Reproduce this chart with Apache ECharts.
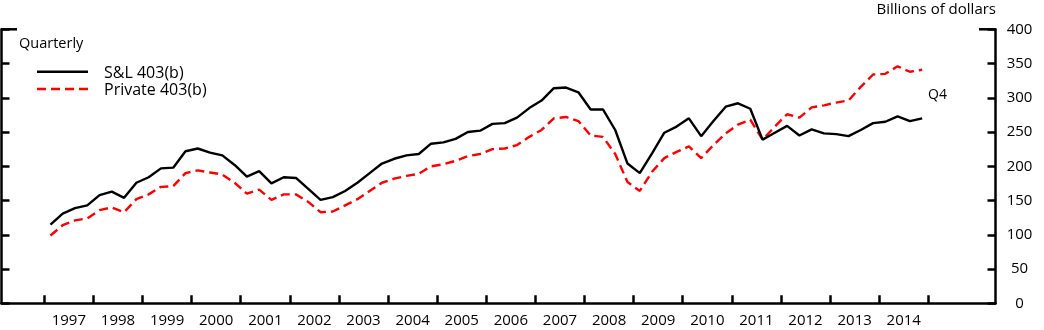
<!DOCTYPE html>
<html>
<head>
<meta charset="utf-8">
<script src="https://cdn.jsdelivr.net/npm/echarts@6/dist/echarts.min.js"></script>
<style>
html,body{margin:0;padding:0;background:#fff;}
#chart{width:1044px;height:330px;}
</style>
</head>
<body>
<div id="chart"></div>
<script>
// ---- data ----
const years = ['1997','1998','1999','2000','2001','2002','2003','2004','2005','2006','2007','2008','2009','2010','2011','2012','2013','2014'];
const quarters = [];
years.forEach(y => { for (let q = 1; q <= 4; q++) quarters.push(y + 'Q' + q); });

const seriesNames = ['S&L 403(b)', 'Private 403(b)'];

const slSeries = [
  115, 131, 139, 143,
  158, 163, 154, 176,
  184, 197, 198, 222,
  226, 220, 216, 202,
  185, 193, 175, 184,
  183, 167, 151, 155,
  164, 176, 190, 204,
  211, 216, 218, 233,
  235, 240, 250, 252,
  262, 263, 271, 285,
  296, 314, 315, 308,
  283, 283, 253, 204,
  190, 219, 249, 258,
  270, 244, 266, 287,
  292, 284, 239, 249,
  259, 245, 254, 248,
  247, 244, 253, 263,
  265, 273, 266, 270
];
const privateSeries = [
  99, 114, 121, 124,
  136, 140, 133, 152,
  159, 170, 171, 190,
  194, 191, 188, 176,
  160, 166, 151, 159,
  159, 148, 133, 134,
  143, 152, 164, 176,
  182, 186, 189, 200,
  203, 208, 215, 218,
  225, 226, 231, 243,
  253, 270, 272, 266,
  245, 243, 218, 177,
  164, 192, 212, 221,
  229, 212, 231, 248,
  261, 268, 239, 258,
  276, 271, 286, 289,
  293, 296, 316, 334,
  335, 346, 338, 341
];
const yMin = 0, yMax = 400, yStep = 50;

// ---- chart ----
const FONT = '"Open Sans", "Noto Sans", sans-serif';
const chart = echarts.init(document.getElementById('chart'), null, {renderer: 'canvas'});
const TOP = 29.3, BOTTOM = 26.7;
const AW = 2.5; // axis line width
const LW = 2.4; // series line width
const DASH = [9, 5];

const option = {
  animation: false,
  backgroundColor: '#fff',
  textStyle: {fontFamily: FONT, color: '#000'},
  grid: [
    {left: 1.5, right: 48.5, top: TOP, bottom: BOTTOM, containLabel: false},
    {left: 44.3, right: 115.7, top: TOP, bottom: BOTTOM, containLabel: false}
  ],
  xAxis: [
    { // year labels / ticks
      type: 'category', gridIndex: 1, data: years, boundaryGap: true,
      axisLine: {show: false},
      axisTick: {show: true, inside: true, length: 8, interval: 0, lineStyle: {color: '#000', width: AW}},
      axisLabel: {interval: 0, margin: 10, fontSize: 15, fontFamily: FONT, color: '#000'},
      splitLine: {show: false}
    },
    { // quarters (data)
      type: 'category', gridIndex: 1, data: quarters, boundaryGap: true, show: false
    },
    { // frame bottom line
      type: 'value', gridIndex: 0, min: 0, max: 1,
      axisLine: {show: true, onZero: false, lineStyle: {color: '#000', width: AW}},
      axisTick: {show: false}, axisLabel: {show: false}, splitLine: {show: false}
    }
  ],
  yAxis: [
    { // frame left
      type: 'value', gridIndex: 0, position: 'left', min: yMin, max: yMax, interval: yStep,
      axisLine: {show: true, lineStyle: {color: '#000', width: AW}},
      axisTick: {show: true, inside: true, length: 8, lineStyle: {color: '#000', width: AW}},
      axisLabel: {show: false}, splitLine: {show: false}
    },
    { // frame right with labels
      type: 'value', gridIndex: 0, position: 'right', min: yMin, max: yMax, interval: yStep,
      axisLine: {show: true, lineStyle: {color: '#000', width: AW}},
      axisTick: {show: true, inside: true, length: 8, lineStyle: {color: '#000', width: AW}},
      axisLabel: {show: true, align: 'center', margin: 24, fontSize: 15, fontFamily: FONT, color: '#000'},
      splitLine: {show: false}
    },
    { // data
      type: 'value', gridIndex: 1, min: yMin, max: yMax, show: false
    }
  ],
  series: [
    {
      name: seriesNames[0], type: 'line', xAxisIndex: 1, yAxisIndex: 2,
      data: slSeries, symbol: 'none', smooth: false,
      lineStyle: {color: '#000', width: LW},
      itemStyle: {color: '#000'}, z: 3
    },
    {
      name: seriesNames[1], type: 'line', xAxisIndex: 1, yAxisIndex: 2,
      data: privateSeries, symbol: 'none', smooth: false,
      lineStyle: {color: '#ff0000', width: LW, type: DASH},
      itemStyle: {color: '#ff0000'}, z: 2
    }
  ],
  graphic: [
    {type: 'text', x: 19, y: 44, style: {text: 'Quarterly', font: '14.5px ' + FONT, fill: '#000', verticalAlign: 'middle'}},
    {type: 'text', right: 48, top: 2, style: {text: 'Billions of dollars', font: '15px ' + FONT, fill: '#000'}},
    {type: 'text', x: 928, y: 95, style: {text: 'Q4', font: '14px ' + FONT, fill: '#000', verticalAlign: 'middle'}},
    // legend
    {type: 'line', shape: {x1: 37, y1: 71.7, x2: 88, y2: 71.7}, style: {stroke: '#000', lineWidth: LW}},
    {type: 'line', shape: {x1: 37, y1: 89, x2: 88, y2: 89}, style: {stroke: '#ff0000', lineWidth: LW, lineDash: DASH}},
    {type: 'text', x: 104, y: 73, style: {text: seriesNames[0], font: '16px ' + FONT, fill: '#000', verticalAlign: 'middle'}},
    {type: 'text', x: 104, y: 90, style: {text: seriesNames[1], font: '16px ' + FONT, fill: '#000', verticalAlign: 'middle'}},
    // frame corner stubs
    {type: 'line', shape: {x1: 1.5, y1: TOP, x2: 17, y2: TOP}, style: {stroke: '#000', lineWidth: AW}},
    {type: 'line', shape: {x1: 979, y1: TOP, x2: 995.5, y2: TOP}, style: {stroke: '#000', lineWidth: AW}}
  ]
};
chart.setOption(option);
</script>
</body>
</html>
